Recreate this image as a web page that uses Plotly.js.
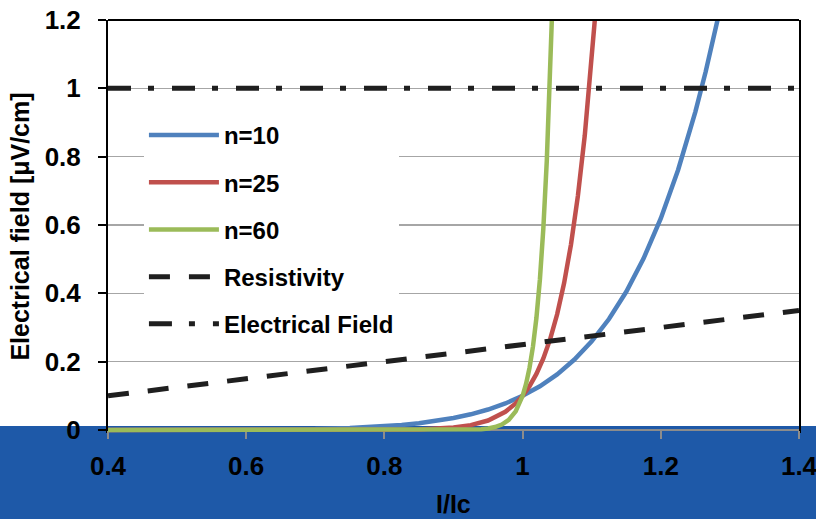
<!DOCTYPE html>
<html>
<head>
<meta charset="utf-8">
<script src="https://cdn.plot.ly/plotly-3.0.1.min.js"></script>
<style>html,body{margin:0;padding:0;background:#fff;}#chart{width:816px;height:519px;}</style>
</head>
<body>
<div id="chart"></div>
<script>
// Values
const seriesNames = ["n=10", "n=25", "n=60", "Resistivity", "Electrical Field"];

const x_n10 = [0.4, 0.5, 0.6, 0.7, 0.75, 0.8, 0.825, 0.85, 0.875, 0.9, 0.925, 0.95, 0.975, 1.0, 1.025, 1.05, 1.075, 1.1, 1.125, 1.15, 1.175, 1.2, 1.225, 1.25, 1.265, 1.28, 1.2821];
const y_n10 = [0.00001, 0.0001, 0.0006, 0.0028, 0.0056, 0.0107, 0.0146, 0.0197, 0.0263, 0.0349, 0.0459, 0.0599, 0.0776, 0.1, 0.128, 0.1629, 0.2061, 0.2594, 0.3247, 0.4046, 0.5017, 0.6192, 0.761, 0.9313, 1.0493, 1.1806, 1.2];

const x_n25 = [0.4, 0.6, 0.7, 0.8, 0.85, 0.9, 0.925, 0.95, 0.975, 0.99, 1.0, 1.01, 1.02, 1.03, 1.04, 1.05, 1.06, 1.07, 1.08, 1.09, 1.1, 1.1045];
const y_n25 = [0, 0, 0.00001, 0.0004, 0.0017, 0.0072, 0.0142, 0.0277, 0.0531, 0.0778, 0.1, 0.1282, 0.1641, 0.2094, 0.2666, 0.3386, 0.4292, 0.5428, 0.6848, 0.8624, 1.0835, 1.2];

const x_n60 = [0.4, 0.85, 0.9, 0.92, 0.94, 0.95, 0.96, 0.97, 0.98, 0.99, 1.0, 1.005, 1.01, 1.015, 1.02, 1.025, 1.03, 1.035, 1.04, 1.0423];
const y_n60 = [0, 0, 0.0002, 0.0007, 0.0024, 0.0046, 0.0086, 0.0161, 0.0298, 0.0547, 0.1, 0.1349, 0.1817, 0.2443, 0.3281, 0.4399, 0.5892, 0.7878, 1.0519, 1.2];

const x_res = [0.4, 1.4];
const y_res = [0.1, 0.35];

const x_ef = [0.4, 1.4];
const y_ef = [1, 1];

const xTicks = [0.4, 0.6, 0.8, 1, 1.2, 1.4];
const yTicks = [0, 0.2, 0.4, 0.6, 0.8, 1, 1.2];

const xTitle = "I/Ic";
const yTitle = "Electrical field [μV/cm]";

const FONT = "'Liberation Sans', Arial, sans-serif";

const traces = [
  {x: x_n10, y: y_n10, name: seriesNames[0], legendgroup: "a", mode: "lines", line: {color: "#4f81bd", width: 4.5}},
  {x: x_n25, y: y_n25, name: seriesNames[1], legendgroup: "b", mode: "lines", line: {color: "#c0504d", width: 4.5}},
  {x: x_n60, y: y_n60, name: seriesNames[2], legendgroup: "c", mode: "lines", line: {color: "#9bbb59", width: 4.5}},
  {x: x_res, y: y_res, name: seriesNames[3], legendgroup: "d", mode: "lines", line: {color: "#1f1f1f", width: 5, dash: "21px,19px"}},
  {x: x_ef, y: y_ef, name: seriesNames[4], legendgroup: "e", mode: "lines", line: {color: "#1f1f1f", width: 5, dash: "23px,17px,6px,18px"}}
];

// plot area: top 20px, bottom 433px; y range extends slightly below 0 so the y=0 curves are not half-clipped
const yLow = -0.0088;
const zeroPos = (0 - yLow) / (1.2 - yLow);

const layout = {
  width: 816, height: 519,
  margin: {l: 108, r: 17, t: 20, b: 86, pad: 0},
  paper_bgcolor: "#ffffff",
  plot_bgcolor: "rgba(0,0,0,0)",
  font: {family: FONT, color: "#000", weight: "bold", size: 24},
  showlegend: true,
  hovermode: false,
  legend: {
    x: 0.052, y: 0.775, xanchor: "left", yanchor: "top",
    bgcolor: "#ffffff", borderwidth: 0,
    font: {family: FONT, size: 24, color: "#000", weight: "bold"},
    itemwidth: 70, tracegroupgap: 13, traceorder: "grouped"
  },
  xaxis: {
    range: [0.4, 1.4], tickvals: xTicks, ticktext: xTicks.map(String),
    anchor: "free", position: zeroPos,
    showgrid: false, zeroline: false, layer: "below traces",
    showline: true, linecolor: "#8c8c8c", linewidth: 2,
    ticks: "outside", ticklen: 8, tickwidth: 2, tickcolor: "#8c8c8c",
    ticklabelstandoff: 5, ticklabeloverflow: "allow",
    tickfont: {family: FONT, size: 26, color: "#000", weight: "bold"}
  },
  yaxis: {
    range: [yLow, 1.2], tickvals: yTicks, ticktext: yTicks.map(String),
    showgrid: true, gridcolor: "#a6a6a6", gridwidth: 1.3,
    zeroline: false, layer: "below traces",
    showline: true, linecolor: "#000", linewidth: 2, mirror: true,
    ticks: "outside", ticklen: 8, tickwidth: 2, tickcolor: "#000",
    ticklabelstandoff: 12,
    tickfont: {family: FONT, size: 26, color: "#000", weight: "bold"},
    title: {text: yTitle, font: {family: FONT, size: 25, color: "#000", weight: "bold"}, standoff: 8}
  },
  annotations: [
    {text: xTitle, xref: "paper", yref: "paper", x: 0.5, y: -0.172, xanchor: "center", yanchor: "middle",
     showarrow: false, font: {family: FONT, size: 25, color: "#000", weight: "bold"}}
  ],
  shapes: [
    {type: "rect", xref: "paper", yref: "paper", x0: -0.2, x1: 1.1, y0: -0.3, y1: zeroPos + 4 / 413,
     fillcolor: "#1e59a8", line: {width: 0}, layer: "below"},
    {type: "line", xref: "paper", yref: "paper", x0: 0, x1: 1, y0: 1, y1: 1,
     line: {color: "#000", width: 2}, layer: "above"}
  ]
};

Plotly.newPlot("chart", traces, layout, {displayModeBar: false, staticPlot: true});
</script>
</body>
</html>
